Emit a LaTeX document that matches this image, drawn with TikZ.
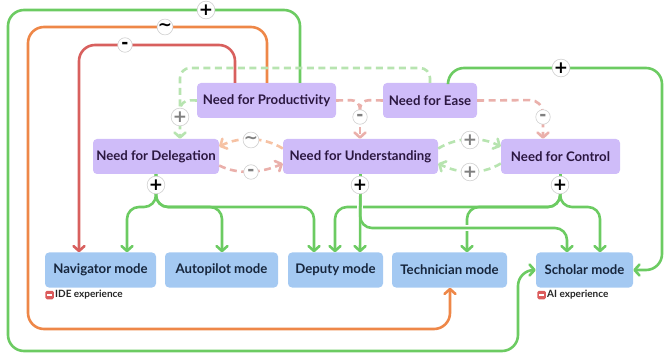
\documentclass[tikz,border=0pt]{standalone}
\usepackage{fontspec}
\setmainfont{Lato}
\newfontfamily\symfont{DejaVu Sans Bold}
\usetikzlibrary{arrows.meta}
\definecolor{npurple}{HTML}{CFBCF9}
\definecolor{nblue}{HTML}{A4C9F2}
\definecolor{ptext}{HTML}{2B1740}
\definecolor{btext}{HTML}{17263D}
\definecolor{cgreen}{HTML}{6CCB62}
\definecolor{corange}{HTML}{EE8748}
\definecolor{cred}{HTML}{D8605E}
\definecolor{lgreen}{HTML}{B7E4B0}
\definecolor{lpink}{HTML}{EAB0AB}
\definecolor{lorange}{HTML}{F6C2A4}
\definecolor{lblgray}{HTML}{CFCFCF}
\definecolor{legred}{HTML}{DB5B5B}
\tikzset{
  need/.style={fill=npurple, rounded corners=4pt, minimum height=35pt, inner sep=0pt,
    font=\bfseries\fontsize{13.2}{15}\selectfont, text=ptext},
  mode/.style={fill=nblue, rounded corners=4pt, minimum height=35pt, inner sep=0pt,
    font=\bfseries\fontsize{13.2}{15}\selectfont, text=btext},
  tipa/.style={-{Straight Barb[length=5pt,width=11pt,line cap=round,line join=round]}},
  sline/.style={line width=2.6pt, rounded corners=12pt},
  bigloop/.style={line width=2.6pt, rounded corners=16pt},
  dline/.style={line width=2.6pt, dash pattern=on 7pt off 4.5pt, rounded corners=10pt},
  sgn/.style={circle, fill=white, draw=lblgray, line width=0.6pt, minimum size=14.5pt,
    inner sep=0pt, font=\symfont\fontsize{17}{17}\selectfont, text=black},
  sgnl/.style={sgn, text=black!50},
  legbox/.style={fill=legred, rounded corners=1.5pt, minimum size=8.5pt, inner sep=0pt},
  legtext/.style={anchor=west, inner sep=0pt, font=\bfseries\fontsize{10}{12}\selectfont, text=black!85},
}
\begin{document}
\begin{tikzpicture}[x=1pt,y=-1pt]
\useasboundingbox (0,0) rectangle (664,358);
% needs
\node[need, minimum width=139pt] (prod) at (266.5,100.5) {Need for Productivity};
\node[need, minimum width=94pt] (ease) at (430,100.5) {Need for Ease};
\node[need, minimum width=126pt] (deleg) at (156,156.5) {Need for Delegation};
\node[need, minimum width=155pt] (und) at (360.5,156.5) {Need for Understanding};
\node[need, minimum width=119pt] (ctrl) at (560.5,156.5) {Need for Control};
% modes
\node[mode, minimum width=111pt] (nav) at (100.5,270) {Navigator mode};
\node[mode, minimum width=113pt] (auto) at (221.5,270) {Autopilot mode};
\node[mode, minimum width=95pt] (dep) at (335.5,270) {Deputy mode};
\node[mode, minimum width=115pt] (tech) at (449.5,270) {Technician mode};
\node[mode, minimum width=97pt] (sch) at (584.5,270) {Scholar mode};
% legends
\node[legbox] (leg1) at (49.5,295) {\color{white}\rule[0pt]{5pt}{1.4pt}};
\node[legtext] (leg1t) at (55,295) {IDE experience};
\node[legbox] (leg2) at (541.5,295) {\color{white}\rule[0pt]{5pt}{1.4pt}};
\node[legtext] (leg2t) at (547,295) {AI experience};
% big loops
\draw[bigloop, cgreen, tipa] ([xshift=33.5pt]prod.north) -- (300,10) -- (8,10) -- (8,351) -- (518,351) -- (518,270) -- (sch.west);
\draw[bigloop, corange, tipa] ([xshift=0.5pt]prod.north) -- (267,27) -- (28,27) -- (28,329) -- (450,329) -- ([xshift=0.5pt]tech.south);
\draw[bigloop, cred, tipa] ([xshift=-31.5pt]prod.north) -- (235,45) -- (79,45) -- ([xshift=-21.5pt]nav.north);
\draw[bigloop, cgreen, tipa] ([xshift=18pt]ease.north) -- (448,68) -- (662,68) -- (662,270) -- (sch.east);
% dashed top
\draw[dline, lgreen, tipa] (ease.north) -- (430,68) -- (180,68) -- ([xshift=24pt]deleg.north);
\draw[dline, lgreen] (prod.west) -- (180,100) -- (180,112);
\draw[dline, lpink, rounded corners=9pt] (prod.east) -- (360,100) -- (360,114);
\draw[dline, lpink, rounded corners=9pt] (ease.west) -- (360,100) -- (360,114);
\draw[dline, lpink, tipa] (360,116) -- ([xshift=-0.5pt]und.north);
\draw[dline, lpink, tipa, rounded corners=13pt] (ease.east) -- (543,100) -- ([xshift=-17.5pt]ctrl.north);
% side dashed curves
\draw[dline, lorange, tipa] ([yshift=8pt]und.west) .. controls +(-20,-12) and +(20,-10) .. ([yshift=10pt]deleg.east);
\draw[dline, lpink, tipa] ([yshift=-9pt]deleg.east) .. controls +(20,10) and +(-20,9) .. ([yshift=-7pt]und.west);
\draw[dline, lgreen, tipa] ([yshift=8pt]und.east) .. controls +(20,-12) and +(-20,-10) .. ([yshift=10pt]ctrl.west);
\draw[dline, lgreen, tipa] ([yshift=-7pt]ctrl.west) .. controls +(-20,12) and +(20,10) .. ([yshift=-7pt]und.east);
% delegation branches
\draw[sline, cgreen, tipa] (deleg.south) -- (156,207) -- (127,207) -- ([xshift=26.5pt]nav.north);
\draw[sline, cgreen, tipa] (deleg.south) -- (156,207) -- (222,207) -- ([xshift=0.5pt]auto.north);
\draw[sline, cgreen, tipa] (deleg.south) -- (156,207) -- (314,207) -- ([xshift=-21.5pt]dep.north);
% control branches
\draw[sline, cgreen, tipa] (ctrl.south) -- (560,207) -- (335,207) -- ([xshift=-0.5pt]dep.north);
\draw[sline, cgreen, tipa] (ctrl.south) -- (560,207) -- (467,207) -- ([xshift=17.5pt]tech.north);
\draw[sline, cgreen, tipa] (ctrl.south) -- (560,207) -- (600,207) -- ([xshift=15.5pt]sch.north);
% crossing gaps
\draw[white, line width=6.5pt] (360,200) -- (360,214);
\draw[white, line width=6.5pt] (459,228) -- (475,228);
% understanding branches
\draw[sline, cgreen, tipa] (und.south) -- (360,228) -- (567,228) -- ([xshift=-17.5pt]sch.north);
\draw[sline, cgreen, tipa] (und.south) -- ([xshift=24.5pt]dep.north);
% sign labels
\node[sgn] (s1) at (206,10) {+};
\node[sgn] (s2) at (165,27) {\textasciitilde};
\node[sgn] (s3) at (125,45) {-};
\node[sgn] (s4) at (561,68) {+};
\node[sgnl] (s5) at (180,117) {+};
\node[sgnl] (s6) at (360,117) {-};
\node[sgnl] (s7) at (543,117) {-};
\node[sgnl] (s8) at (251,140) {\textasciitilde};
\node[sgnl] (s9) at (251,172) {-};
\node[sgnl] (s10) at (470,140) {+};
\node[sgnl] (s11) at (470,172) {+};
\node[sgn] (s12) at (156,185) {+};
\node[sgn] (s13) at (360,185) {+};
\node[sgn] (s14) at (560,185) {+};
\end{tikzpicture}
\end{document}
